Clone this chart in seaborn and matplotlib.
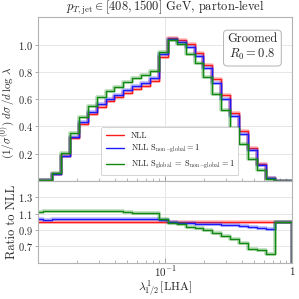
import numpy as np
import matplotlib
matplotlib.use("Agg")
import matplotlib.pyplot as plt
import seaborn as sns
from matplotlib.ticker import LogLocator, NullFormatter

# -----------------------------------------------------------
# data
# -----------------------------------------------------------
log_edges = np.linspace(-2.03, 0.0, 30)     # 29 log-uniform bins
edges = 10 ** log_edges

nll = [0.003, 0.008, 0.052, 0.180, 0.313, 0.416, 0.488, 0.545, 0.584, 0.615,
       0.648, 0.677, 0.700, 0.733, 0.913, 1.046, 1.034, 1.004, 0.938, 0.852,
       0.746, 0.628, 0.495, 0.365, 0.242, 0.124, 0.020, 0.0, 0.0]
nll_sng = [0.0031, 0.0082, 0.0535, 0.186, 0.323, 0.429, 0.503, 0.562, 0.602, 0.634,
           0.668, 0.698, 0.721, 0.756, 0.930, 1.040, 1.021, 0.985, 0.914, 0.828,
           0.722, 0.604, 0.473, 0.345, 0.227, 0.1145, 0.0183, 0.0, 0.0]
nll_sg_sng = [0.00335, 0.009, 0.059, 0.203, 0.355, 0.470, 0.552, 0.615, 0.658, 0.692,
              0.726, 0.752, 0.775, 0.807, 0.943, 1.035, 1.004, 0.935, 0.865, 0.762,
              0.640, 0.518, 0.390, 0.270, 0.160, 0.081, 0.012, 0.0, 0.0]

labels = [r"NLL",
          r"NLL $\mathrm{S}_{\rm non\!-\!global}=1$",
          r"NLL $\mathrm{S}_{\rm global}\;=\;\mathrm{S}_{\rm non\!-\!global}=1$"]
colors = ["#ff1a1a", "#1a1aff", "#118811"]

# -----------------------------------------------------------
# style
# -----------------------------------------------------------
sns.set_style("whitegrid")
plt.rcParams.update({
    "font.family": "serif",
    "font.serif": ["cmr10"],
    "mathtext.fontset": "cm",
    "axes.formatter.use_mathtext": True,
    "axes.edgecolor": "0.7",
    "grid.color": "0.9",
    "grid.linewidth": 0.7,
    "text.color": "0.15",
    "axes.labelcolor": "0.15",
    "xtick.color": "0.6",
    "ytick.color": "0.6",
    "xtick.labelcolor": "0.15",
    "ytick.labelcolor": "0.15",
    "xtick.direction": "in",
    "ytick.direction": "out",
    "xtick.bottom": True,
    "ytick.left": True,
})


def step_xy(vals):
    x = np.concatenate([[edges[0]], edges])
    y = np.concatenate([[0.0], vals, [0.0]])
    return x, y


def ratio(num, den):
    num = np.asarray(num)
    den = np.asarray(den)
    safe = np.where(den > 0, den, 1.0)
    return np.where(den > 0, num / safe, 1.0)


fig, (ax, axr) = plt.subplots(2, 1, sharex=True, figsize=(2.99, 2.99), dpi=100,
                              gridspec_kw={"height_ratios": [2, 1], "hspace": 0})
fig.subplots_adjust(left=0.128, right=0.9776, top=0.9415, bottom=0.122)
ax.set_xscale("log")

series = [nll, nll_sng, nll_sg_sng]

# top panel
for vals, c, lab in zip(series, colors, labels):
    x, y = step_xy(vals)
    sns.lineplot(x=x, y=y, ax=ax, drawstyle="steps-post", color=c, lw=2.6,
                 alpha=0.3, estimator=None, sort=False)
    sns.lineplot(x=x, y=y, ax=ax, drawstyle="steps-post", color=c, lw=1.0,
                 estimator=None, sort=False, label=lab)

# ratio panel
for vals, c in zip(series, colors):
    x, y = step_xy(ratio(vals, nll))
    sns.lineplot(x=x, y=y, ax=axr, drawstyle="steps-post", color=c, lw=2.6,
                 alpha=0.3, estimator=None, sort=False)
    sns.lineplot(x=x, y=y, ax=axr, drawstyle="steps-post", color=c, lw=1.0,
                 estimator=None, sort=False)

# axes
ax.set_xlim(0.01, 1.0)
ax.set_ylim(0, 1.2)
ax.set_yticks([0.2, 0.4, 0.6, 0.8, 1.0])
axr.set_ylim(0.5, 1.5)
axr.set_yticks([0.7, 0.9, 1.1, 1.3])
axr.set_xticks([0.1, 1.0], labels=[r"$10^{-1}$", r"$1$"])
for a in (ax, axr):
    a.xaxis.set_minor_locator(LogLocator(base=10, subs=np.arange(2, 10)))
    a.xaxis.set_minor_formatter(NullFormatter())
    a.tick_params(axis="x", which="major", length=3.5, width=0.6, labelsize=8, pad=1.5)
    a.tick_params(axis="x", which="minor", length=2, width=0.5)
    a.tick_params(axis="y", which="major", length=2.5, width=0.6, labelsize=7.5, pad=1.5)
    a.grid(True, which="major")
    a.grid(False, which="minor")
    for s in a.spines.values():
        s.set_linewidth(0.8)
ax.tick_params(axis="x", labelbottom=False)

ax.set_title(r"$p_{T,{\rm jet}} \in [408, 1500]$ GeV, parton-level", fontsize=9, pad=3)
ax.set_ylabel(r"$(1/\sigma^{(0)})\;d\sigma\,/d\,\log\,\lambda$", fontsize=8)
ax.yaxis.set_label_coords(-0.083, 0.42)
axr.set_ylabel("Ratio to NLL", fontsize=9)
axr.yaxis.set_label_coords(-0.08, 0.5)
axr.set_xlabel(r"$\lambda^{1}_{1/2}\,[{\rm LHA}]$", fontsize=8.5, labelpad=0)

ax.text(0.843, 0.816, "Groomed\n$R_0 = 0.8$", transform=ax.transAxes,
        ha="center", va="center", fontsize=9, linespacing=1.2,
        bbox=dict(boxstyle="round,pad=0.3", fc="white", ec="0.7", lw=0.7))

leg = ax.legend(loc="lower center", bbox_to_anchor=(0.518, 0.008), fontsize=6,
                frameon=True, fancybox=True, handlelength=2.2, borderpad=0.5,
                labelspacing=0.45, framealpha=1.0, edgecolor="0.8")
leg.get_frame().set_linewidth(0.6)

fig.savefig("out.png", dpi=100)
